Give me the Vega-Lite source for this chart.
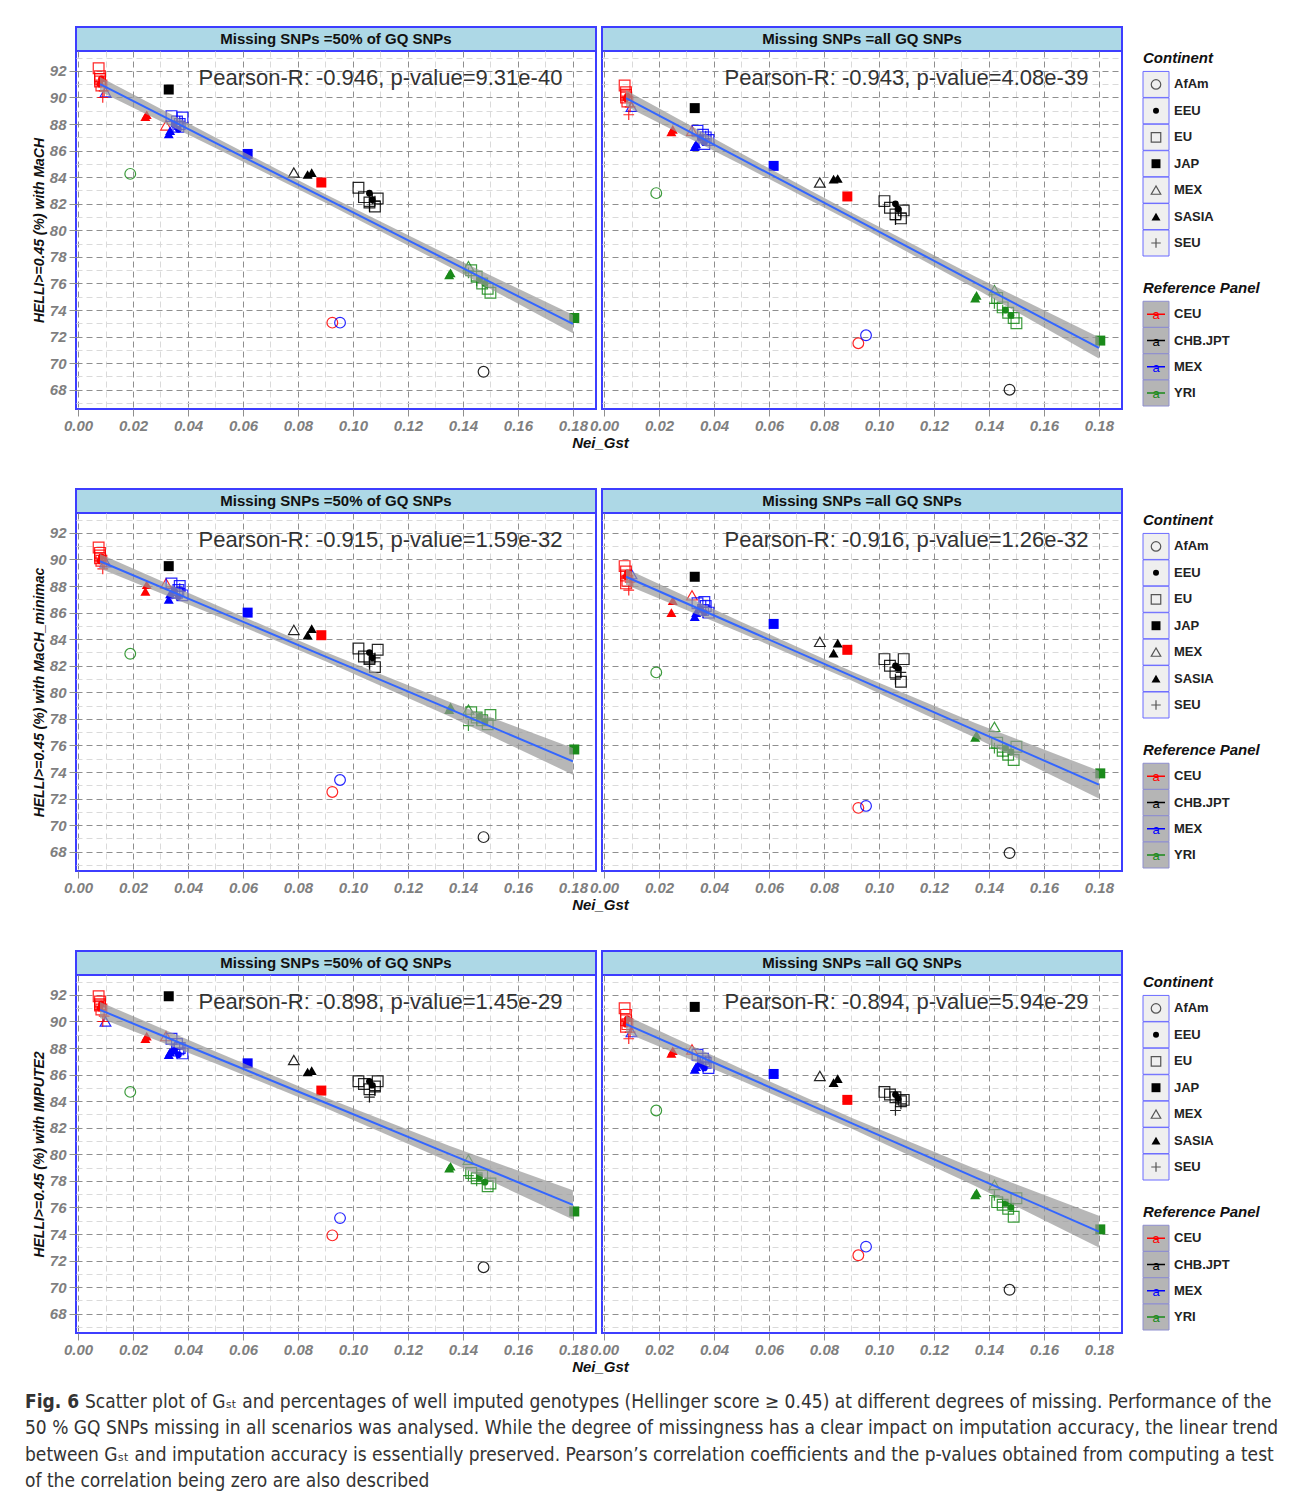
{
"$schema": "https://vega.github.io/schema/vega-lite/v6.json",
"padding": {"left": 25, "top": 26, "right": 10, "bottom": 4},
"config": {"font": "Liberation Sans", "view": {"stroke": null}, "axis": {"labelFont": "Liberation Sans", "titleFont": "Liberation Sans"}},
"datasets": {
"pts": [
{"cont":"AfAm","ref":"YRI","gst":0.019,"A":84.25,"B":82.8,"C":82.9,"D":81.5,"E":84.7,"F":83.3},
{"cont":"AfAm","ref":"CEU","gst":0.0925,"A":73.05,"B":71.5,"C":72.5,"D":71.3,"E":73.9,"F":72.4},
{"cont":"AfAm","ref":"MEX","gst":0.0953,"A":73.05,"B":72.1,"C":73.4,"D":71.45,"E":75.2,"F":73.05},
{"cont":"AfAm","ref":"CHB.JPT","gst":0.1475,"A":69.35,"B":68.0,"C":69.1,"D":67.9,"E":71.5,"F":69.8},
{"cont":"JAP","ref":"CHB.JPT","gst":0.033,"A":90.6,"B":89.2,"C":89.5,"D":88.7,"E":91.9,"F":91.1},
{"cont":"JAP","ref":"MEX","gst":0.0617,"A":85.75,"B":84.85,"C":86.0,"D":85.15,"E":86.85,"F":86.05},
{"cont":"JAP","ref":"CEU","gst":0.0885,"A":83.6,"B":82.55,"C":84.3,"D":83.2,"E":84.8,"F":84.1},
{"cont":"JAP","ref":"YRI","gst":0.1805,"A":73.4,"B":71.7,"C":75.7,"D":73.9,"E":75.7,"F":74.35},
{"cont":"MEX","ref":"CHB.JPT","gst":0.0785,"A":84.35,"B":83.6,"C":84.7,"D":83.8,"E":87.1,"F":85.9},
{"cont":"MEX","ref":"CEU","gst":0.032,"A":87.9,"B":87.5,"C":88.2,"D":87.3,"E":88.9,"F":87.9},
{"cont":"MEX","ref":"MEX","gst":0.01,"A":90.4,"B":89.3,"C":89.8,"D":88.9,"E":90.0,"F":89.2},
{"cont":"MEX","ref":"YRI","gst":0.142,"A":77.3,"B":75.5,"C":78.7,"D":77.4,"E":79.6,"F":77.7},
{"cont":"SASIA","ref":"CEU","gst":0.0245,"A":88.55,"B":87.4,"C":87.6,"D":86.0,"E":88.7,"F":87.6},
{"cont":"SASIA","ref":"CEU","gst":0.025,"A":88.7,"B":87.6,"C":88.1,"D":86.9,"E":88.9,"F":87.8},
{"cont":"SASIA","ref":"MEX","gst":0.033,"A":87.25,"B":86.3,"C":87.0,"D":85.7,"E":87.5,"F":86.4},
{"cont":"SASIA","ref":"MEX","gst":0.0335,"A":87.5,"B":86.5,"C":87.4,"D":86.0,"E":87.7,"F":86.6},
{"cont":"SASIA","ref":"CHB.JPT","gst":0.0835,"A":84.2,"B":83.85,"C":84.3,"D":82.95,"E":86.2,"F":85.4},
{"cont":"SASIA","ref":"CHB.JPT","gst":0.085,"A":84.35,"B":83.9,"C":84.8,"D":83.7,"E":86.3,"F":85.7},
{"cont":"SASIA","ref":"YRI","gst":0.135,"A":76.65,"B":74.9,"C":78.7,"D":76.6,"E":78.95,"F":76.95},
{"cont":"SASIA","ref":"YRI","gst":0.1355,"A":76.8,"B":75.1,"C":78.9,"D":76.8,"E":79.1,"F":77.1},
{"cont":"EU","ref":"CEU","gst":0.0075,"A":92.2,"B":90.9,"C":90.9,"D":89.5,"E":91.9,"F":91.0},
{"cont":"EU","ref":"CEU","gst":0.008,"A":91.6,"B":90.4,"C":90.5,"D":89.1,"E":91.5,"F":90.5},
{"cont":"EU","ref":"CEU","gst":0.008,"A":91.2,"B":90.0,"C":90.1,"D":88.8,"E":91.2,"F":90.1},
{"cont":"EU","ref":"CEU","gst":0.0085,"A":90.9,"B":89.7,"C":89.9,"D":88.4,"E":90.9,"F":89.8},
{"cont":"EU","ref":"CEU","gst":0.008,"A":91.4,"B":90.2,"C":90.3,"D":88.2,"E":91.3,"F":89.6},
{"cont":"EU","ref":"MEX","gst":0.034,"A":88.6,"B":87.5,"C":88.2,"D":86.7,"E":88.7,"F":87.5},
{"cont":"EU","ref":"MEX","gst":0.036,"A":88.2,"B":87.2,"C":87.5,"D":86.2,"E":88.3,"F":87.2},
{"cont":"EU","ref":"MEX","gst":0.037,"A":88.0,"B":87.0,"C":88.0,"D":86.5,"E":88.0,"F":86.9},
{"cont":"EU","ref":"MEX","gst":0.038,"A":88.5,"B":86.8,"C":87.3,"D":86.0,"E":87.6,"F":86.5},
{"cont":"EU","ref":"MEX","gst":0.0365,"A":87.8,"B":86.5,"C":87.7,"D":86.8,"E":87.9,"F":87.0},
{"cont":"EU","ref":"CHB.JPT","gst":0.102,"A":83.2,"B":82.2,"C":83.3,"D":82.5,"E":85.5,"F":84.7},
{"cont":"EU","ref":"CHB.JPT","gst":0.104,"A":82.5,"B":81.7,"C":82.7,"D":82.0,"E":85.3,"F":84.5},
{"cont":"EU","ref":"CHB.JPT","gst":0.106,"A":82.1,"B":81.2,"C":82.5,"D":81.5,"E":84.9,"F":84.3},
{"cont":"EU","ref":"CHB.JPT","gst":0.108,"A":81.8,"B":80.9,"C":81.9,"D":80.8,"E":85.1,"F":84.0},
{"cont":"EU","ref":"CHB.JPT","gst":0.109,"A":82.4,"B":81.5,"C":83.2,"D":82.5,"E":85.5,"F":84.1},
{"cont":"EU","ref":"YRI","gst":0.143,"A":77.0,"B":74.9,"C":78.5,"D":76.2,"E":78.6,"F":76.4},
{"cont":"EU","ref":"YRI","gst":0.145,"A":76.5,"B":74.2,"C":78.1,"D":75.6,"E":78.2,"F":76.2},
{"cont":"EU","ref":"YRI","gst":0.147,"A":76.0,"B":73.8,"C":77.9,"D":75.3,"E":78.4,"F":75.9},
{"cont":"EU","ref":"YRI","gst":0.149,"A":75.6,"B":73.4,"C":77.6,"D":74.9,"E":77.6,"F":75.3},
{"cont":"EU","ref":"YRI","gst":0.15,"A":75.3,"B":73.0,"C":78.3,"D":75.9,"E":77.8,"F":76.7},
{"cont":"EEU","ref":"CEU","gst":0.008,"A":91.0,"B":89.9,"C":89.9,"D":88.7,"E":91.0,"F":89.8},
{"cont":"EEU","ref":"CEU","gst":0.0085,"A":91.4,"B":90.1,"C":90.2,"D":89.0,"E":91.3,"F":90.2},
{"cont":"EEU","ref":"MEX","gst":0.035,"A":88.0,"B":87.0,"C":87.6,"D":86.3,"E":87.8,"F":86.8},
{"cont":"EEU","ref":"MEX","gst":0.0365,"A":87.6,"B":86.6,"C":87.2,"D":86.0,"E":87.5,"F":86.5},
{"cont":"EEU","ref":"CHB.JPT","gst":0.106,"A":82.8,"B":82.0,"C":83.0,"D":82.0,"E":85.5,"F":84.5},
{"cont":"EEU","ref":"CHB.JPT","gst":0.107,"A":82.3,"B":81.6,"C":82.6,"D":81.8,"E":85.2,"F":84.2},
{"cont":"EEU","ref":"YRI","gst":0.146,"A":76.3,"B":74.0,"C":78.2,"D":75.8,"E":78.3,"F":76.3},
{"cont":"EEU","ref":"YRI","gst":0.148,"A":76.0,"B":73.6,"C":77.8,"D":75.5,"E":77.9,"F":76.0},
{"cont":"SEU","ref":"CEU","gst":0.009,"A":90.0,"B":88.7,"C":89.3,"D":87.7,"E":90.0,"F":88.7},
{"cont":"SEU","ref":"CEU","gst":0.0095,"A":90.5,"B":89.3,"C":89.7,"D":88.3,"E":90.4,"F":89.2},
{"cont":"SEU","ref":"MEX","gst":0.036,"A":87.8,"B":86.8,"C":87.3,"D":86.0,"E":87.6,"F":86.6},
{"cont":"SEU","ref":"MEX","gst":0.037,"A":88.2,"B":87.1,"C":87.8,"D":86.5,"E":88.0,"F":87.0},
{"cont":"SEU","ref":"CHB.JPT","gst":0.106,"A":81.8,"B":80.8,"C":82.2,"D":81.0,"E":84.3,"F":83.3},
{"cont":"SEU","ref":"CHB.JPT","gst":0.108,"A":82.2,"B":81.3,"C":82.6,"D":81.5,"E":84.8,"F":83.8},
{"cont":"SEU","ref":"YRI","gst":0.142,"A":76.8,"B":74.5,"C":77.5,"D":75.8,"E":78.4,"F":76.9},
{"cont":"SEU","ref":"YRI","gst":0.145,"A":76.2,"B":74.0,"C":77.9,"D":75.5,"E":78.0,"F":76.4}
],
"fit": [
{"p":"A","gst":0.008,"fit":91.0,"lo":90.45,"hi":91.55},
{"p":"A","gst":0.05,"fit":86.59,"lo":86.19,"hi":86.99},
{"p":"A","gst":0.09,"fit":82.4,"lo":82.08,"hi":82.72},
{"p":"A","gst":0.135,"fit":77.68,"lo":77.26,"hi":78.1},
{"p":"A","gst":0.18,"fit":72.95,"lo":72.25,"hi":73.65},
{"p":"B","gst":0.008,"fit":89.95,"lo":89.35,"hi":90.55},
{"p":"B","gst":0.05,"fit":85.36,"lo":84.94,"hi":85.78},
{"p":"B","gst":0.09,"fit":80.99,"lo":80.64,"hi":81.34},
{"p":"B","gst":0.135,"fit":76.07,"lo":75.62,"hi":76.52},
{"p":"B","gst":0.18,"fit":71.15,"lo":70.35,"hi":71.95},
{"p":"C","gst":0.008,"fit":89.87,"lo":89.32,"hi":90.42},
{"p":"C","gst":0.05,"fit":86.19,"lo":85.79,"hi":86.59},
{"p":"C","gst":0.09,"fit":82.69,"lo":82.34,"hi":83.04},
{"p":"C","gst":0.135,"fit":78.75,"lo":78.2,"hi":79.3},
{"p":"C","gst":0.18,"fit":74.8,"lo":73.8,"hi":75.8},
{"p":"D","gst":0.008,"fit":88.7,"lo":88.1,"hi":89.3},
{"p":"D","gst":0.05,"fit":84.88,"lo":84.46,"hi":85.3},
{"p":"D","gst":0.09,"fit":81.24,"lo":80.89,"hi":81.59},
{"p":"D","gst":0.135,"fit":77.14,"lo":76.59,"hi":77.69},
{"p":"D","gst":0.18,"fit":73.05,"lo":72.0,"hi":74.1},
{"p":"E","gst":0.008,"fit":90.87,"lo":90.27,"hi":91.47},
{"p":"E","gst":0.05,"fit":87.29,"lo":86.84,"hi":87.74},
{"p":"E","gst":0.09,"fit":83.88,"lo":83.48,"hi":84.28},
{"p":"E","gst":0.135,"fit":80.04,"lo":79.44,"hi":80.64},
{"p":"E","gst":0.18,"fit":76.2,"lo":75.1,"hi":77.3},
{"p":"F","gst":0.008,"fit":89.8,"lo":89.15,"hi":90.45},
{"p":"F","gst":0.05,"fit":85.99,"lo":85.54,"hi":86.44},
{"p":"F","gst":0.09,"fit":82.35,"lo":81.95,"hi":82.75},
{"p":"F","gst":0.135,"fit":78.27,"lo":77.62,"hi":78.92},
{"p":"F","gst":0.18,"fit":74.18,"lo":72.98,"hi":75.38}
],
"ann": [
{"p":"A","label":"Pearson-R: -0.946, p-value=9.31e-40"},
{"p":"B","label":"Pearson-R: -0.943, p-value=4.08e-39"},
{"p":"C","label":"Pearson-R: -0.915, p-value=1.59e-32"},
{"p":"D","label":"Pearson-R: -0.916, p-value=1.26e-32"},
{"p":"E","label":"Pearson-R: -0.898, p-value=1.45e-29"},
{"p":"F","label":"Pearson-R: -0.894, p-value=5.94e-29"}
],
"legC": [
{"k":"Continent","t":1},{"k":"AfAm","t":0},{"k":"EEU","t":0},{"k":"EU","t":0},{"k":"JAP","t":0},{"k":"MEX","t":0},{"k":"SASIA","t":0},{"k":"SEU","t":0}
],
"legR": [
{"k":"Reference Panel","t":1},{"k":"CEU","t":0},{"k":"CHB.JPT","t":0},{"k":"MEX","t":0},{"k":"YRI","t":0}
],
"cap": [
{"line":1,"b":1,"t":"Fig. 6"},
{"line":1,"b":2,"t":"Scatter plot of Gₛₜ and percentages of well imputed genotypes (Hellinger score ≥ 0.45) at different degrees of missing. Performance of the"},
{"line":2,"b":0,"t":"50 % GQ SNPs missing in all scenarios was analysed. While the degree of missingness has a clear impact on imputation accuracy, the linear trend"},
{"line":3,"b":0,"t":"between Gₛₜ and imputation accuracy is essentially preserved. Pearson’s correlation coefficients and the p-values obtained from computing a test"},
{"line":4,"b":0,"t":"of the correlation being zero are also described"}
]
},
"spacing": 12,
"vconcat": [
{
"columns": 3,
"bounds": "flush",
"align": "each",
"spacing": {"row": 0, "column": 6},
"concat": [
{"width":520,"height":24,"view":{"fill":"#add8e6","stroke":"#3d3dff","strokeWidth":2},"data":{"values":[{"t":"Missing SNPs =50% of GQ SNPs"}]},"mark":{"type":"text","fontSize":15,"fontWeight":"bold","color":"#111111","baseline":"middle"},"encoding":{"text":{"field":"t"}}},
{"width":520,"height":24,"view":{"fill":"#add8e6","stroke":"#3d3dff","strokeWidth":2},"data":{"values":[{"t":"Missing SNPs =all GQ SNPs"}]},"mark":{"type":"text","fontSize":15,"fontWeight":"bold","color":"#111111","baseline":"middle"},"encoding":{"text":{"field":"t"}}},
{"width":56,"height":24,"data":{"values":[]},"mark":"point"},

{"width":520,"height":358,"view":{"stroke":"#3d3dff","strokeWidth":2},
"layer":[
{"data":{"name":"pts"},"transform":[{"filter":{"field":"cont","oneOf":["AfAm","EU","MEX","SEU"]}}],
"mark":{"type":"point","filled":false,"size":115,"strokeWidth":1.2,"opacity":0.85},
"encoding":{"x":{"field":"gst","type":"quantitative","scale":{"domain":[-0.00073,0.1884],"nice":false,"zero":false},"axis":{"orient":"bottom","values":[0.01,0.03,0.05,0.07,0.09,0.11,0.13,0.15,0.17],"grid":true,"gridColor":"#dadada","gridDash":[6,4],"ticks":false,"labels":false,"domain":false,"title":null}},
"y":{"field":"A","type":"quantitative","scale":{"domain":[66.55,93.5],"nice":false,"zero":false},"axis":{"orient":"left","values":[67,69,71,73,75,77,79,81,83,85,87,89,91,93],"grid":true,"gridColor":"#dadada","gridDash":[6,4],"ticks":false,"labels":false,"domain":false,"title":null}},
"shape":{"field":"cont","type":"nominal","scale":{"domain":["AfAm","EEU","EU","JAP","MEX","SASIA","SEU"],"range":["circle","circle","square","square","triangle-up","triangle-up","M-1,0H1M0,-1V1"]},"legend":null},
"color":{"field":"ref","type":"nominal","scale":{"domain":["CEU","CHB.JPT","MEX","YRI"],"range":["#ff0000","#000000","#0000ff","#1a8a1a"]},"legend":null}}},
{"data":{"name":"pts"},"transform":[{"filter":{"field":"cont","oneOf":["JAP","SASIA"]}}],
"mark":{"type":"point","filled":true,"size":100,"opacity":1},
"encoding":{"x":{"field":"gst","type":"quantitative","scale":{"domain":[-0.00073,0.1884],"nice":false,"zero":false},"axis":{"orient":"bottom","values":[0,0.02,0.04,0.06,0.08,0.1,0.12,0.14,0.16,0.18],"format":".2f","grid":true,"gridColor":"#8f8f8f","gridDash":[6,4],"ticks":true,"tickColor":"#8f8f8f","tickSize":7,"domain":false,"labelColor":"#7f7f7f","labelFontSize":15,"labelFontWeight":"bold","labelFontStyle":"italic","labelPadding":2,"labelOverlap":false,"labelFlush":false,"title":"Nei_Gst","titleX":524,"titleFontSize":15,"titleFontWeight":"bold","titleFontStyle":"italic","titleColor":"#111111","titlePadding":2}},
"y":{"field":"A","type":"quantitative","scale":{"domain":[66.55,93.5],"nice":false,"zero":false},"axis":{"orient":"left","values":[68,70,72,74,76,78,80,82,84,86,88,90,92],"grid":true,"gridColor":"#8f8f8f","gridDash":[6,4],"ticks":true,"tickColor":"#8f8f8f","tickSize":7,"domain":false,"labelColor":"#7f7f7f","labelFontSize":15,"labelFontWeight":"bold","labelFontStyle":"italic","labelPadding":3,"labelOverlap":false,"labelFlush":false,"title":"HELLI>=0.45 (%) with MaCH","titleFontSize":14,"titleFontWeight":"bold","titleFontStyle":"italic","titleColor":"#111111","titlePadding":3}},
"shape":{"field":"cont","type":"nominal","legend":null},
"color":{"field":"ref","type":"nominal","legend":null}}},
{"data":{"name":"pts"},"transform":[{"filter":{"field":"cont","equal":"EEU"}}],
"mark":{"type":"point","filled":true,"size":45,"opacity":1,"shape":"circle"},
"encoding":{"x":{"field":"gst","type":"quantitative","axis":null},"y":{"field":"A","type":"quantitative","axis":null},"color":{"field":"ref","type":"nominal","legend":null}}},
{"data":{"name":"fit"},"transform":[{"filter":{"field":"p","equal":"A"}}],
"mark":{"type":"area","color":"#999999","opacity":0.7},
"encoding":{"x":{"field":"gst","type":"quantitative","axis":null},"y":{"field":"lo","type":"quantitative","axis":null},"y2":{"field":"hi"}}},
{"data":{"name":"fit"},"transform":[{"filter":{"field":"p","equal":"A"}}],
"mark":{"type":"line","color":"#3366ff","strokeWidth":2},
"encoding":{"x":{"field":"gst","type":"quantitative","axis":null},"y":{"field":"fit","type":"quantitative","axis":null}}},
{"data":{"name":"ann"},"transform":[{"filter":{"field":"p","equal":"A"}}],
"mark":{"type":"text","fontSize":22,"color":"#333333","baseline":"middle"},
"encoding":{"x":{"datum":0.11,"type":"quantitative","axis":null},"y":{"datum":91.5,"type":"quantitative","axis":null},"text":{"field":"label"}}}
],
"resolve":{"axis":{"x":"independent","y":"independent"}}},

{"width":520,"height":358,"view":{"stroke":"#3d3dff","strokeWidth":2},
"layer":[
{"data":{"name":"pts"},"transform":[{"filter":{"field":"cont","oneOf":["AfAm","EU","MEX","SEU"]}}],
"mark":{"type":"point","filled":false,"size":115,"strokeWidth":1.2,"opacity":0.85},
"encoding":{"x":{"field":"gst","type":"quantitative","scale":{"domain":[-0.00073,0.1884],"nice":false,"zero":false},"axis":{"orient":"bottom","values":[0.01,0.03,0.05,0.07,0.09,0.11,0.13,0.15,0.17],"grid":true,"gridColor":"#dadada","gridDash":[6,4],"ticks":false,"labels":false,"domain":false,"title":null}},
"y":{"field":"B","type":"quantitative","scale":{"domain":[66.55,93.5],"nice":false,"zero":false},"axis":{"orient":"left","values":[67,69,71,73,75,77,79,81,83,85,87,89,91,93],"grid":true,"gridColor":"#dadada","gridDash":[6,4],"ticks":false,"labels":false,"domain":false,"title":null}},
"shape":{"field":"cont","type":"nominal","scale":{"domain":["AfAm","EEU","EU","JAP","MEX","SASIA","SEU"],"range":["circle","circle","square","square","triangle-up","triangle-up","M-1,0H1M0,-1V1"]},"legend":null},
"color":{"field":"ref","type":"nominal","scale":{"domain":["CEU","CHB.JPT","MEX","YRI"],"range":["#ff0000","#000000","#0000ff","#1a8a1a"]},"legend":null}}},
{"data":{"name":"pts"},"transform":[{"filter":{"field":"cont","oneOf":["JAP","SASIA"]}}],
"mark":{"type":"point","filled":true,"size":100,"opacity":1},
"encoding":{"x":{"field":"gst","type":"quantitative","scale":{"domain":[-0.00073,0.1884],"nice":false,"zero":false},"axis":{"orient":"bottom","values":[0,0.02,0.04,0.06,0.08,0.1,0.12,0.14,0.16,0.18],"format":".2f","grid":true,"gridColor":"#8f8f8f","gridDash":[6,4],"ticks":true,"tickColor":"#8f8f8f","tickSize":7,"domain":false,"labelColor":"#7f7f7f","labelFontSize":15,"labelFontWeight":"bold","labelFontStyle":"italic","labelPadding":2,"labelOverlap":false,"labelFlush":false,"title":null}},
"y":{"field":"B","type":"quantitative","scale":{"domain":[66.55,93.5],"nice":false,"zero":false},"axis":{"orient":"left","values":[68,70,72,74,76,78,80,82,84,86,88,90,92],"grid":true,"gridColor":"#8f8f8f","gridDash":[6,4],"ticks":false,"labels":false,"domain":false,"title":null}},
"shape":{"field":"cont","type":"nominal","legend":null},
"color":{"field":"ref","type":"nominal","legend":null}}},
{"data":{"name":"pts"},"transform":[{"filter":{"field":"cont","equal":"EEU"}}],
"mark":{"type":"point","filled":true,"size":45,"opacity":1,"shape":"circle"},
"encoding":{"x":{"field":"gst","type":"quantitative","axis":null},"y":{"field":"B","type":"quantitative","axis":null},"color":{"field":"ref","type":"nominal","legend":null}}},
{"data":{"name":"fit"},"transform":[{"filter":{"field":"p","equal":"B"}}],
"mark":{"type":"area","color":"#999999","opacity":0.7},
"encoding":{"x":{"field":"gst","type":"quantitative","axis":null},"y":{"field":"lo","type":"quantitative","axis":null},"y2":{"field":"hi"}}},
{"data":{"name":"fit"},"transform":[{"filter":{"field":"p","equal":"B"}}],
"mark":{"type":"line","color":"#3366ff","strokeWidth":2},
"encoding":{"x":{"field":"gst","type":"quantitative","axis":null},"y":{"field":"fit","type":"quantitative","axis":null}}},
{"data":{"name":"ann"},"transform":[{"filter":{"field":"p","equal":"B"}}],
"mark":{"type":"text","fontSize":22,"color":"#333333","baseline":"middle"},
"encoding":{"x":{"datum":0.11,"type":"quantitative","axis":null},"y":{"datum":91.5,"type":"quantitative","axis":null},"text":{"field":"label"}}}
],
"resolve":{"axis":{"x":"independent","y":"independent"}}},

{"width":56,"height":438,
"layer":[
{"data":{"name":"legC"},
"encoding":{"y":{"field":"k","type":"nominal","scale":{"type":"point","domain":["Continent","AfAm","EEU","EU","JAP","MEX","SASIA","SEU"],"range":[7,192],"padding":0},"axis":null}},
"layer":[
{"transform":[{"filter":"datum.t==1"}],"mark":{"type":"text","align":"left","dx":-13,"fontSize":15,"fontWeight":"bold","fontStyle":"italic","color":"#111111","baseline":"middle"},"encoding":{"text":{"field":"k"}}},
{"transform":[{"filter":"datum.t==0"}],"mark":{"type":"point","shape":"square","size":676,"filled":true,"fill":"#efefef","stroke":"#6b6bff","strokeWidth":1,"opacity":1}},
{"transform":[{"filter":{"field":"k","oneOf":["AfAm","EU","MEX","SEU"]}}],"mark":{"type":"point","filled":false,"size":90,"strokeWidth":1.2,"color":"#555555","opacity":1},"encoding":{"shape":{"field":"k","type":"nominal","legend":null}}},
{"transform":[{"filter":{"field":"k","oneOf":["JAP","SASIA"]}}],"mark":{"type":"point","filled":true,"size":80,"color":"#000000","opacity":1},"encoding":{"shape":{"field":"k","type":"nominal","legend":null}}},
{"transform":[{"filter":"datum.k=='EEU'"}],"mark":{"type":"point","filled":true,"size":36,"color":"#000000","shape":"circle","opacity":1}},
{"transform":[{"filter":"datum.t==0"}],"mark":{"type":"text","align":"left","dx":18,"fontSize":13,"fontWeight":"bold","color":"#222222","baseline":"middle"},"encoding":{"text":{"field":"k"}}}
]},
{"data":{"name":"legR"},
"encoding":{"y":{"field":"k","type":"nominal","scale":{"type":"point","domain":["Reference Panel","CEU","CHB.JPT","MEX","YRI"],"range":[237,342],"padding":0},"axis":null}},
"layer":[
{"transform":[{"filter":"datum.t==1"}],"mark":{"type":"text","align":"left","dx":-13,"fontSize":15,"fontWeight":"bold","fontStyle":"italic","color":"#111111","baseline":"middle"},"encoding":{"text":{"field":"k"}}},
{"transform":[{"filter":"datum.t==0"}],"mark":{"type":"point","shape":"square","size":676,"filled":true,"fill":"#b5b5b5","stroke":"#8f8fcf","strokeWidth":1,"opacity":1}},
{"transform":[{"filter":"datum.t==0"}],"mark":{"type":"point","shape":"M-1,0H1","size":324,"filled":false,"strokeWidth":1.5,"opacity":1},"encoding":{"color":{"field":"k","type":"nominal","legend":null}}},
{"transform":[{"filter":"datum.t==0"}],"mark":{"type":"text","text":"a","fontSize":13,"baseline":"middle","dy":1},"encoding":{"color":{"field":"k","type":"nominal","legend":null}}},
{"transform":[{"filter":"datum.t==0"}],"mark":{"type":"text","align":"left","dx":18,"fontSize":13,"fontWeight":"bold","color":"#222222","baseline":"middle"},"encoding":{"text":{"field":"k"}}}
]}
],
"resolve":{"scale":{"y":"independent"}}},

{"width":520,"height":24,"view":{"fill":"#add8e6","stroke":"#3d3dff","strokeWidth":2},"data":{"values":[{"t":"Missing SNPs =50% of GQ SNPs"}]},"mark":{"type":"text","fontSize":15,"fontWeight":"bold","color":"#111111","baseline":"middle"},"encoding":{"text":{"field":"t"}}},
{"width":520,"height":24,"view":{"fill":"#add8e6","stroke":"#3d3dff","strokeWidth":2},"data":{"values":[{"t":"Missing SNPs =all GQ SNPs"}]},"mark":{"type":"text","fontSize":15,"fontWeight":"bold","color":"#111111","baseline":"middle"},"encoding":{"text":{"field":"t"}}},
{"width":56,"height":24,"data":{"values":[]},"mark":"point"},

{"width":520,"height":358,"view":{"stroke":"#3d3dff","strokeWidth":2},
"layer":[
{"data":{"name":"pts"},"transform":[{"filter":{"field":"cont","oneOf":["AfAm","EU","MEX","SEU"]}}],
"mark":{"type":"point","filled":false,"size":115,"strokeWidth":1.2,"opacity":0.85},
"encoding":{"x":{"field":"gst","type":"quantitative","scale":{"domain":[-0.00073,0.1884],"nice":false,"zero":false},"axis":{"orient":"bottom","values":[0.01,0.03,0.05,0.07,0.09,0.11,0.13,0.15,0.17],"grid":true,"gridColor":"#dadada","gridDash":[6,4],"ticks":false,"labels":false,"domain":false,"title":null}},
"y":{"field":"C","type":"quantitative","scale":{"domain":[66.55,93.5],"nice":false,"zero":false},"axis":{"orient":"left","values":[67,69,71,73,75,77,79,81,83,85,87,89,91,93],"grid":true,"gridColor":"#dadada","gridDash":[6,4],"ticks":false,"labels":false,"domain":false,"title":null}},
"shape":{"field":"cont","type":"nominal","scale":{"domain":["AfAm","EEU","EU","JAP","MEX","SASIA","SEU"],"range":["circle","circle","square","square","triangle-up","triangle-up","M-1,0H1M0,-1V1"]},"legend":null},
"color":{"field":"ref","type":"nominal","scale":{"domain":["CEU","CHB.JPT","MEX","YRI"],"range":["#ff0000","#000000","#0000ff","#1a8a1a"]},"legend":null}}},
{"data":{"name":"pts"},"transform":[{"filter":{"field":"cont","oneOf":["JAP","SASIA"]}}],
"mark":{"type":"point","filled":true,"size":100,"opacity":1},
"encoding":{"x":{"field":"gst","type":"quantitative","scale":{"domain":[-0.00073,0.1884],"nice":false,"zero":false},"axis":{"orient":"bottom","values":[0,0.02,0.04,0.06,0.08,0.1,0.12,0.14,0.16,0.18],"format":".2f","grid":true,"gridColor":"#8f8f8f","gridDash":[6,4],"ticks":true,"tickColor":"#8f8f8f","tickSize":7,"domain":false,"labelColor":"#7f7f7f","labelFontSize":15,"labelFontWeight":"bold","labelFontStyle":"italic","labelPadding":2,"labelOverlap":false,"labelFlush":false,"title":"Nei_Gst","titleX":524,"titleFontSize":15,"titleFontWeight":"bold","titleFontStyle":"italic","titleColor":"#111111","titlePadding":2}},
"y":{"field":"C","type":"quantitative","scale":{"domain":[66.55,93.5],"nice":false,"zero":false},"axis":{"orient":"left","values":[68,70,72,74,76,78,80,82,84,86,88,90,92],"grid":true,"gridColor":"#8f8f8f","gridDash":[6,4],"ticks":true,"tickColor":"#8f8f8f","tickSize":7,"domain":false,"labelColor":"#7f7f7f","labelFontSize":15,"labelFontWeight":"bold","labelFontStyle":"italic","labelPadding":3,"labelOverlap":false,"labelFlush":false,"title":"HELLI>=0.45 (%) with MaCH_minimac","titleFontSize":14,"titleFontWeight":"bold","titleFontStyle":"italic","titleColor":"#111111","titlePadding":3}},
"shape":{"field":"cont","type":"nominal","legend":null},
"color":{"field":"ref","type":"nominal","legend":null}}},
{"data":{"name":"pts"},"transform":[{"filter":{"field":"cont","equal":"EEU"}}],
"mark":{"type":"point","filled":true,"size":45,"opacity":1,"shape":"circle"},
"encoding":{"x":{"field":"gst","type":"quantitative","axis":null},"y":{"field":"C","type":"quantitative","axis":null},"color":{"field":"ref","type":"nominal","legend":null}}},
{"data":{"name":"fit"},"transform":[{"filter":{"field":"p","equal":"C"}}],
"mark":{"type":"area","color":"#999999","opacity":0.7},
"encoding":{"x":{"field":"gst","type":"quantitative","axis":null},"y":{"field":"lo","type":"quantitative","axis":null},"y2":{"field":"hi"}}},
{"data":{"name":"fit"},"transform":[{"filter":{"field":"p","equal":"C"}}],
"mark":{"type":"line","color":"#3366ff","strokeWidth":2},
"encoding":{"x":{"field":"gst","type":"quantitative","axis":null},"y":{"field":"fit","type":"quantitative","axis":null}}},
{"data":{"name":"ann"},"transform":[{"filter":{"field":"p","equal":"C"}}],
"mark":{"type":"text","fontSize":22,"color":"#333333","baseline":"middle"},
"encoding":{"x":{"datum":0.11,"type":"quantitative","axis":null},"y":{"datum":91.5,"type":"quantitative","axis":null},"text":{"field":"label"}}}
],
"resolve":{"axis":{"x":"independent","y":"independent"}}},

{"width":520,"height":358,"view":{"stroke":"#3d3dff","strokeWidth":2},
"layer":[
{"data":{"name":"pts"},"transform":[{"filter":{"field":"cont","oneOf":["AfAm","EU","MEX","SEU"]}}],
"mark":{"type":"point","filled":false,"size":115,"strokeWidth":1.2,"opacity":0.85},
"encoding":{"x":{"field":"gst","type":"quantitative","scale":{"domain":[-0.00073,0.1884],"nice":false,"zero":false},"axis":{"orient":"bottom","values":[0.01,0.03,0.05,0.07,0.09,0.11,0.13,0.15,0.17],"grid":true,"gridColor":"#dadada","gridDash":[6,4],"ticks":false,"labels":false,"domain":false,"title":null}},
"y":{"field":"D","type":"quantitative","scale":{"domain":[66.55,93.5],"nice":false,"zero":false},"axis":{"orient":"left","values":[67,69,71,73,75,77,79,81,83,85,87,89,91,93],"grid":true,"gridColor":"#dadada","gridDash":[6,4],"ticks":false,"labels":false,"domain":false,"title":null}},
"shape":{"field":"cont","type":"nominal","scale":{"domain":["AfAm","EEU","EU","JAP","MEX","SASIA","SEU"],"range":["circle","circle","square","square","triangle-up","triangle-up","M-1,0H1M0,-1V1"]},"legend":null},
"color":{"field":"ref","type":"nominal","scale":{"domain":["CEU","CHB.JPT","MEX","YRI"],"range":["#ff0000","#000000","#0000ff","#1a8a1a"]},"legend":null}}},
{"data":{"name":"pts"},"transform":[{"filter":{"field":"cont","oneOf":["JAP","SASIA"]}}],
"mark":{"type":"point","filled":true,"size":100,"opacity":1},
"encoding":{"x":{"field":"gst","type":"quantitative","scale":{"domain":[-0.00073,0.1884],"nice":false,"zero":false},"axis":{"orient":"bottom","values":[0,0.02,0.04,0.06,0.08,0.1,0.12,0.14,0.16,0.18],"format":".2f","grid":true,"gridColor":"#8f8f8f","gridDash":[6,4],"ticks":true,"tickColor":"#8f8f8f","tickSize":7,"domain":false,"labelColor":"#7f7f7f","labelFontSize":15,"labelFontWeight":"bold","labelFontStyle":"italic","labelPadding":2,"labelOverlap":false,"labelFlush":false,"title":null}},
"y":{"field":"D","type":"quantitative","scale":{"domain":[66.55,93.5],"nice":false,"zero":false},"axis":{"orient":"left","values":[68,70,72,74,76,78,80,82,84,86,88,90,92],"grid":true,"gridColor":"#8f8f8f","gridDash":[6,4],"ticks":false,"labels":false,"domain":false,"title":null}},
"shape":{"field":"cont","type":"nominal","legend":null},
"color":{"field":"ref","type":"nominal","legend":null}}},
{"data":{"name":"pts"},"transform":[{"filter":{"field":"cont","equal":"EEU"}}],
"mark":{"type":"point","filled":true,"size":45,"opacity":1,"shape":"circle"},
"encoding":{"x":{"field":"gst","type":"quantitative","axis":null},"y":{"field":"D","type":"quantitative","axis":null},"color":{"field":"ref","type":"nominal","legend":null}}},
{"data":{"name":"fit"},"transform":[{"filter":{"field":"p","equal":"D"}}],
"mark":{"type":"area","color":"#999999","opacity":0.7},
"encoding":{"x":{"field":"gst","type":"quantitative","axis":null},"y":{"field":"lo","type":"quantitative","axis":null},"y2":{"field":"hi"}}},
{"data":{"name":"fit"},"transform":[{"filter":{"field":"p","equal":"D"}}],
"mark":{"type":"line","color":"#3366ff","strokeWidth":2},
"encoding":{"x":{"field":"gst","type":"quantitative","axis":null},"y":{"field":"fit","type":"quantitative","axis":null}}},
{"data":{"name":"ann"},"transform":[{"filter":{"field":"p","equal":"D"}}],
"mark":{"type":"text","fontSize":22,"color":"#333333","baseline":"middle"},
"encoding":{"x":{"datum":0.11,"type":"quantitative","axis":null},"y":{"datum":91.5,"type":"quantitative","axis":null},"text":{"field":"label"}}}
],
"resolve":{"axis":{"x":"independent","y":"independent"}}},

{"width":56,"height":438,
"layer":[
{"data":{"name":"legC"},
"encoding":{"y":{"field":"k","type":"nominal","scale":{"type":"point","domain":["Continent","AfAm","EEU","EU","JAP","MEX","SASIA","SEU"],"range":[7,192],"padding":0},"axis":null}},
"layer":[
{"transform":[{"filter":"datum.t==1"}],"mark":{"type":"text","align":"left","dx":-13,"fontSize":15,"fontWeight":"bold","fontStyle":"italic","color":"#111111","baseline":"middle"},"encoding":{"text":{"field":"k"}}},
{"transform":[{"filter":"datum.t==0"}],"mark":{"type":"point","shape":"square","size":676,"filled":true,"fill":"#efefef","stroke":"#6b6bff","strokeWidth":1,"opacity":1}},
{"transform":[{"filter":{"field":"k","oneOf":["AfAm","EU","MEX","SEU"]}}],"mark":{"type":"point","filled":false,"size":90,"strokeWidth":1.2,"color":"#555555","opacity":1},"encoding":{"shape":{"field":"k","type":"nominal","legend":null}}},
{"transform":[{"filter":{"field":"k","oneOf":["JAP","SASIA"]}}],"mark":{"type":"point","filled":true,"size":80,"color":"#000000","opacity":1},"encoding":{"shape":{"field":"k","type":"nominal","legend":null}}},
{"transform":[{"filter":"datum.k=='EEU'"}],"mark":{"type":"point","filled":true,"size":36,"color":"#000000","shape":"circle","opacity":1}},
{"transform":[{"filter":"datum.t==0"}],"mark":{"type":"text","align":"left","dx":18,"fontSize":13,"fontWeight":"bold","color":"#222222","baseline":"middle"},"encoding":{"text":{"field":"k"}}}
]},
{"data":{"name":"legR"},
"encoding":{"y":{"field":"k","type":"nominal","scale":{"type":"point","domain":["Reference Panel","CEU","CHB.JPT","MEX","YRI"],"range":[237,342],"padding":0},"axis":null}},
"layer":[
{"transform":[{"filter":"datum.t==1"}],"mark":{"type":"text","align":"left","dx":-13,"fontSize":15,"fontWeight":"bold","fontStyle":"italic","color":"#111111","baseline":"middle"},"encoding":{"text":{"field":"k"}}},
{"transform":[{"filter":"datum.t==0"}],"mark":{"type":"point","shape":"square","size":676,"filled":true,"fill":"#b5b5b5","stroke":"#8f8fcf","strokeWidth":1,"opacity":1}},
{"transform":[{"filter":"datum.t==0"}],"mark":{"type":"point","shape":"M-1,0H1","size":324,"filled":false,"strokeWidth":1.5,"opacity":1},"encoding":{"color":{"field":"k","type":"nominal","legend":null}}},
{"transform":[{"filter":"datum.t==0"}],"mark":{"type":"text","text":"a","fontSize":13,"baseline":"middle","dy":1},"encoding":{"color":{"field":"k","type":"nominal","legend":null}}},
{"transform":[{"filter":"datum.t==0"}],"mark":{"type":"text","align":"left","dx":18,"fontSize":13,"fontWeight":"bold","color":"#222222","baseline":"middle"},"encoding":{"text":{"field":"k"}}}
]}
],
"resolve":{"scale":{"y":"independent"}}},

{"width":520,"height":24,"view":{"fill":"#add8e6","stroke":"#3d3dff","strokeWidth":2},"data":{"values":[{"t":"Missing SNPs =50% of GQ SNPs"}]},"mark":{"type":"text","fontSize":15,"fontWeight":"bold","color":"#111111","baseline":"middle"},"encoding":{"text":{"field":"t"}}},
{"width":520,"height":24,"view":{"fill":"#add8e6","stroke":"#3d3dff","strokeWidth":2},"data":{"values":[{"t":"Missing SNPs =all GQ SNPs"}]},"mark":{"type":"text","fontSize":15,"fontWeight":"bold","color":"#111111","baseline":"middle"},"encoding":{"text":{"field":"t"}}},
{"width":56,"height":24,"data":{"values":[]},"mark":"point"},

{"width":520,"height":358,"view":{"stroke":"#3d3dff","strokeWidth":2},
"layer":[
{"data":{"name":"pts"},"transform":[{"filter":{"field":"cont","oneOf":["AfAm","EU","MEX","SEU"]}}],
"mark":{"type":"point","filled":false,"size":115,"strokeWidth":1.2,"opacity":0.85},
"encoding":{"x":{"field":"gst","type":"quantitative","scale":{"domain":[-0.00073,0.1884],"nice":false,"zero":false},"axis":{"orient":"bottom","values":[0.01,0.03,0.05,0.07,0.09,0.11,0.13,0.15,0.17],"grid":true,"gridColor":"#dadada","gridDash":[6,4],"ticks":false,"labels":false,"domain":false,"title":null}},
"y":{"field":"E","type":"quantitative","scale":{"domain":[66.55,93.5],"nice":false,"zero":false},"axis":{"orient":"left","values":[67,69,71,73,75,77,79,81,83,85,87,89,91,93],"grid":true,"gridColor":"#dadada","gridDash":[6,4],"ticks":false,"labels":false,"domain":false,"title":null}},
"shape":{"field":"cont","type":"nominal","scale":{"domain":["AfAm","EEU","EU","JAP","MEX","SASIA","SEU"],"range":["circle","circle","square","square","triangle-up","triangle-up","M-1,0H1M0,-1V1"]},"legend":null},
"color":{"field":"ref","type":"nominal","scale":{"domain":["CEU","CHB.JPT","MEX","YRI"],"range":["#ff0000","#000000","#0000ff","#1a8a1a"]},"legend":null}}},
{"data":{"name":"pts"},"transform":[{"filter":{"field":"cont","oneOf":["JAP","SASIA"]}}],
"mark":{"type":"point","filled":true,"size":100,"opacity":1},
"encoding":{"x":{"field":"gst","type":"quantitative","scale":{"domain":[-0.00073,0.1884],"nice":false,"zero":false},"axis":{"orient":"bottom","values":[0,0.02,0.04,0.06,0.08,0.1,0.12,0.14,0.16,0.18],"format":".2f","grid":true,"gridColor":"#8f8f8f","gridDash":[6,4],"ticks":true,"tickColor":"#8f8f8f","tickSize":7,"domain":false,"labelColor":"#7f7f7f","labelFontSize":15,"labelFontWeight":"bold","labelFontStyle":"italic","labelPadding":2,"labelOverlap":false,"labelFlush":false,"title":"Nei_Gst","titleX":524,"titleFontSize":15,"titleFontWeight":"bold","titleFontStyle":"italic","titleColor":"#111111","titlePadding":2}},
"y":{"field":"E","type":"quantitative","scale":{"domain":[66.55,93.5],"nice":false,"zero":false},"axis":{"orient":"left","values":[68,70,72,74,76,78,80,82,84,86,88,90,92],"grid":true,"gridColor":"#8f8f8f","gridDash":[6,4],"ticks":true,"tickColor":"#8f8f8f","tickSize":7,"domain":false,"labelColor":"#7f7f7f","labelFontSize":15,"labelFontWeight":"bold","labelFontStyle":"italic","labelPadding":3,"labelOverlap":false,"labelFlush":false,"title":"HELLI>=0.45 (%) with IMPUTE2","titleFontSize":14,"titleFontWeight":"bold","titleFontStyle":"italic","titleColor":"#111111","titlePadding":3}},
"shape":{"field":"cont","type":"nominal","legend":null},
"color":{"field":"ref","type":"nominal","legend":null}}},
{"data":{"name":"pts"},"transform":[{"filter":{"field":"cont","equal":"EEU"}}],
"mark":{"type":"point","filled":true,"size":45,"opacity":1,"shape":"circle"},
"encoding":{"x":{"field":"gst","type":"quantitative","axis":null},"y":{"field":"E","type":"quantitative","axis":null},"color":{"field":"ref","type":"nominal","legend":null}}},
{"data":{"name":"fit"},"transform":[{"filter":{"field":"p","equal":"E"}}],
"mark":{"type":"area","color":"#999999","opacity":0.7},
"encoding":{"x":{"field":"gst","type":"quantitative","axis":null},"y":{"field":"lo","type":"quantitative","axis":null},"y2":{"field":"hi"}}},
{"data":{"name":"fit"},"transform":[{"filter":{"field":"p","equal":"E"}}],
"mark":{"type":"line","color":"#3366ff","strokeWidth":2},
"encoding":{"x":{"field":"gst","type":"quantitative","axis":null},"y":{"field":"fit","type":"quantitative","axis":null}}},
{"data":{"name":"ann"},"transform":[{"filter":{"field":"p","equal":"E"}}],
"mark":{"type":"text","fontSize":22,"color":"#333333","baseline":"middle"},
"encoding":{"x":{"datum":0.11,"type":"quantitative","axis":null},"y":{"datum":91.5,"type":"quantitative","axis":null},"text":{"field":"label"}}}
],
"resolve":{"axis":{"x":"independent","y":"independent"}}},

{"width":520,"height":358,"view":{"stroke":"#3d3dff","strokeWidth":2},
"layer":[
{"data":{"name":"pts"},"transform":[{"filter":{"field":"cont","oneOf":["AfAm","EU","MEX","SEU"]}}],
"mark":{"type":"point","filled":false,"size":115,"strokeWidth":1.2,"opacity":0.85},
"encoding":{"x":{"field":"gst","type":"quantitative","scale":{"domain":[-0.00073,0.1884],"nice":false,"zero":false},"axis":{"orient":"bottom","values":[0.01,0.03,0.05,0.07,0.09,0.11,0.13,0.15,0.17],"grid":true,"gridColor":"#dadada","gridDash":[6,4],"ticks":false,"labels":false,"domain":false,"title":null}},
"y":{"field":"F","type":"quantitative","scale":{"domain":[66.55,93.5],"nice":false,"zero":false},"axis":{"orient":"left","values":[67,69,71,73,75,77,79,81,83,85,87,89,91,93],"grid":true,"gridColor":"#dadada","gridDash":[6,4],"ticks":false,"labels":false,"domain":false,"title":null}},
"shape":{"field":"cont","type":"nominal","scale":{"domain":["AfAm","EEU","EU","JAP","MEX","SASIA","SEU"],"range":["circle","circle","square","square","triangle-up","triangle-up","M-1,0H1M0,-1V1"]},"legend":null},
"color":{"field":"ref","type":"nominal","scale":{"domain":["CEU","CHB.JPT","MEX","YRI"],"range":["#ff0000","#000000","#0000ff","#1a8a1a"]},"legend":null}}},
{"data":{"name":"pts"},"transform":[{"filter":{"field":"cont","oneOf":["JAP","SASIA"]}}],
"mark":{"type":"point","filled":true,"size":100,"opacity":1},
"encoding":{"x":{"field":"gst","type":"quantitative","scale":{"domain":[-0.00073,0.1884],"nice":false,"zero":false},"axis":{"orient":"bottom","values":[0,0.02,0.04,0.06,0.08,0.1,0.12,0.14,0.16,0.18],"format":".2f","grid":true,"gridColor":"#8f8f8f","gridDash":[6,4],"ticks":true,"tickColor":"#8f8f8f","tickSize":7,"domain":false,"labelColor":"#7f7f7f","labelFontSize":15,"labelFontWeight":"bold","labelFontStyle":"italic","labelPadding":2,"labelOverlap":false,"labelFlush":false,"title":null}},
"y":{"field":"F","type":"quantitative","scale":{"domain":[66.55,93.5],"nice":false,"zero":false},"axis":{"orient":"left","values":[68,70,72,74,76,78,80,82,84,86,88,90,92],"grid":true,"gridColor":"#8f8f8f","gridDash":[6,4],"ticks":false,"labels":false,"domain":false,"title":null}},
"shape":{"field":"cont","type":"nominal","legend":null},
"color":{"field":"ref","type":"nominal","legend":null}}},
{"data":{"name":"pts"},"transform":[{"filter":{"field":"cont","equal":"EEU"}}],
"mark":{"type":"point","filled":true,"size":45,"opacity":1,"shape":"circle"},
"encoding":{"x":{"field":"gst","type":"quantitative","axis":null},"y":{"field":"F","type":"quantitative","axis":null},"color":{"field":"ref","type":"nominal","legend":null}}},
{"data":{"name":"fit"},"transform":[{"filter":{"field":"p","equal":"F"}}],
"mark":{"type":"area","color":"#999999","opacity":0.7},
"encoding":{"x":{"field":"gst","type":"quantitative","axis":null},"y":{"field":"lo","type":"quantitative","axis":null},"y2":{"field":"hi"}}},
{"data":{"name":"fit"},"transform":[{"filter":{"field":"p","equal":"F"}}],
"mark":{"type":"line","color":"#3366ff","strokeWidth":2},
"encoding":{"x":{"field":"gst","type":"quantitative","axis":null},"y":{"field":"fit","type":"quantitative","axis":null}}},
{"data":{"name":"ann"},"transform":[{"filter":{"field":"p","equal":"F"}}],
"mark":{"type":"text","fontSize":22,"color":"#333333","baseline":"middle"},
"encoding":{"x":{"datum":0.11,"type":"quantitative","axis":null},"y":{"datum":91.5,"type":"quantitative","axis":null},"text":{"field":"label"}}}
],
"resolve":{"axis":{"x":"independent","y":"independent"}}},

{"width":56,"height":358,
"layer":[
{"data":{"name":"legC"},
"encoding":{"y":{"field":"k","type":"nominal","scale":{"type":"point","domain":["Continent","AfAm","EEU","EU","JAP","MEX","SASIA","SEU"],"range":[7,192],"padding":0},"axis":null}},
"layer":[
{"transform":[{"filter":"datum.t==1"}],"mark":{"type":"text","align":"left","dx":-13,"fontSize":15,"fontWeight":"bold","fontStyle":"italic","color":"#111111","baseline":"middle"},"encoding":{"text":{"field":"k"}}},
{"transform":[{"filter":"datum.t==0"}],"mark":{"type":"point","shape":"square","size":676,"filled":true,"fill":"#efefef","stroke":"#6b6bff","strokeWidth":1,"opacity":1}},
{"transform":[{"filter":{"field":"k","oneOf":["AfAm","EU","MEX","SEU"]}}],"mark":{"type":"point","filled":false,"size":90,"strokeWidth":1.2,"color":"#555555","opacity":1},"encoding":{"shape":{"field":"k","type":"nominal","legend":null}}},
{"transform":[{"filter":{"field":"k","oneOf":["JAP","SASIA"]}}],"mark":{"type":"point","filled":true,"size":80,"color":"#000000","opacity":1},"encoding":{"shape":{"field":"k","type":"nominal","legend":null}}},
{"transform":[{"filter":"datum.k=='EEU'"}],"mark":{"type":"point","filled":true,"size":36,"color":"#000000","shape":"circle","opacity":1}},
{"transform":[{"filter":"datum.t==0"}],"mark":{"type":"text","align":"left","dx":18,"fontSize":13,"fontWeight":"bold","color":"#222222","baseline":"middle"},"encoding":{"text":{"field":"k"}}}
]},
{"data":{"name":"legR"},
"encoding":{"y":{"field":"k","type":"nominal","scale":{"type":"point","domain":["Reference Panel","CEU","CHB.JPT","MEX","YRI"],"range":[237,342],"padding":0},"axis":null}},
"layer":[
{"transform":[{"filter":"datum.t==1"}],"mark":{"type":"text","align":"left","dx":-13,"fontSize":15,"fontWeight":"bold","fontStyle":"italic","color":"#111111","baseline":"middle"},"encoding":{"text":{"field":"k"}}},
{"transform":[{"filter":"datum.t==0"}],"mark":{"type":"point","shape":"square","size":676,"filled":true,"fill":"#b5b5b5","stroke":"#8f8fcf","strokeWidth":1,"opacity":1}},
{"transform":[{"filter":"datum.t==0"}],"mark":{"type":"point","shape":"M-1,0H1","size":324,"filled":false,"strokeWidth":1.5,"opacity":1},"encoding":{"color":{"field":"k","type":"nominal","legend":null}}},
{"transform":[{"filter":"datum.t==0"}],"mark":{"type":"text","text":"a","fontSize":13,"baseline":"middle","dy":1},"encoding":{"color":{"field":"k","type":"nominal","legend":null}}},
{"transform":[{"filter":"datum.t==0"}],"mark":{"type":"text","align":"left","dx":18,"fontSize":13,"fontWeight":"bold","color":"#222222","baseline":"middle"},"encoding":{"text":{"field":"k"}}}
]}
],
"resolve":{"scale":{"y":"independent"}}}
]
},
{"width":1196,"height":100,
"data":{"name":"cap"},
"encoding":{"y":{"field":"line","type":"ordinal","scale":{"type":"point","range":[15,94],"padding":0},"axis":null}},
"layer":[
{"transform":[{"filter":"datum.b==1"}],"mark":{"type":"text","align":"left","baseline":"middle","dx":-649,"font":"Liberation Sans Narrow, DejaVu Sans Condensed, Roboto Condensed, sans-serif","fontSize":19,"fontWeight":"bold","color":"#333333"},"encoding":{"text":{"field":"t"}}},
{"transform":[{"filter":"datum.b==2"}],"mark":{"type":"text","align":"left","baseline":"middle","dx":-589,"font":"Liberation Sans Narrow, DejaVu Sans Condensed, Roboto Condensed, sans-serif","fontSize":19,"color":"#333333"},"encoding":{"text":{"field":"t"}}},
{"transform":[{"filter":"datum.b==0"}],"mark":{"type":"text","align":"left","baseline":"middle","dx":-649,"font":"Liberation Sans Narrow, DejaVu Sans Condensed, Roboto Condensed, sans-serif","fontSize":19,"color":"#333333"},"encoding":{"text":{"field":"t"}}}
]}
]
}
